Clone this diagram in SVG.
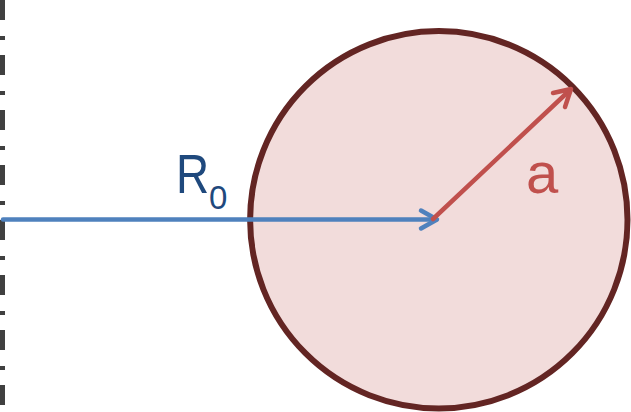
<svg xmlns="http://www.w3.org/2000/svg" width="631" height="412" viewBox="0 0 631 412">
<style>
.blue{stroke:#4f81bd;stroke-width:4.5;fill:none;stroke-linecap:round;stroke-linejoin:round}
.red{stroke:#c0504d;stroke-width:4.5;fill:none;stroke-linecap:round;stroke-linejoin:round}
.lbl{font-family:"Liberation Sans",Arial,sans-serif}
</style>
<g id="axis"><line x1="2.5" y1="0" x2="2.5" y2="412" stroke="#404040" stroke-width="5" stroke-dasharray="20,16,4,15" fill="none"/></g>
<g id="particle"><circle cx="438.8" cy="219.8" r="188.7" fill="#f2dcdb" stroke="#632523" stroke-width="6"/></g>
<g id="connectors">
<line class="blue" x1="3" y1="219.5" x2="436" y2="219.5"/>
<polyline class="blue" points="421,210.5 437,219.5 421,228.5"/>
<line class="red" x1="433" y1="219" x2="570" y2="90"/>
<polyline class="red" points="553,93 571,89 565,107"/>
</g>
<g id="label-R0">
<text class="lbl" transform="translate(176,193) scale(0.82,1)" font-size="56" fill="#1f497d">R</text>
<text class="lbl" x="209" y="209" font-size="33" fill="#1f497d">0</text>
</g>
<g id="label-a"><text class="lbl" x="526" y="193" font-size="58" fill="#c0504d">a</text></g>
</svg>
